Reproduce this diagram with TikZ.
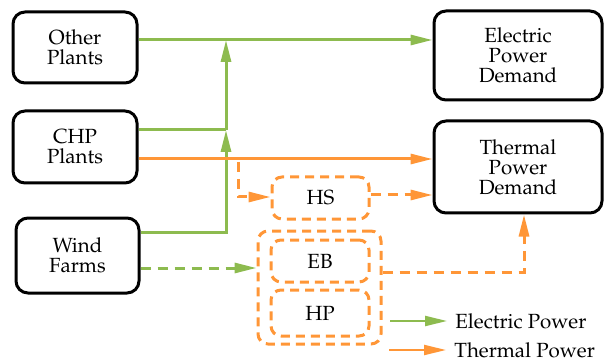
\documentclass[tikz,border=0pt]{standalone}
\usepackage[T1]{fontenc}
\usepackage{mathpazo}
\usetikzlibrary{arrows.meta}
\definecolor{epgreen}{RGB}{141,187,79}
\definecolor{thorange}{RGB}{255,150,55}
\tikzset{
  unit/.style={draw=black,line width=3pt,rounded corners=12pt,align=center,font=\fontsize{20.5}{20}\selectfont},
  store/.style={draw=thorange,line width=3pt,dash pattern=on 9pt off 6pt,rounded corners=10pt,font=\fontsize{20.5}{20}\selectfont},
  tip/.style={-{Triangle[length=22pt,width=10pt]}},
  elpow/.style={tip,draw=epgreen,line width=3pt},
  thpow/.style={tip,draw=thorange,line width=3pt},
  dashline/.style={dash pattern=on 10pt off 7pt}
}
\begin{document}
\begin{tikzpicture}[x=1pt,y=1pt,yscale=-1,xscale=1]
  \useasboundingbox (0,0) rectangle (604,363);
  % sources and demands
  \node[unit,minimum width=124pt,minimum height=71pt] (other) at (75,47.5) {Other\\Plants};
  \node[unit,minimum width=124pt,minimum height=72pt] (chp) at (75,147) {CHP\\Plants};
  \node[unit,minimum width=123pt,minimum height=75pt] (wind) at (77.5,255.5) {Wind\\Farms};
  \node[unit,minimum width=168pt,minimum height=89pt] (elec) at (518,55.5) {Electric\\Power\\Demand};
  \node[unit,minimum width=168pt,minimum height=92pt] (therm) at (518,167) {Thermal\\Power\\Demand};
  % storage and conversion
  \node[store,minimum width=123pt,minimum height=113pt] (grp) at (319.5,287.5) {};
  \node[store,minimum width=97pt,minimum height=42pt] (hs) at (320.5,198) {HS};
  \node[store,minimum width=98pt,minimum height=42pt] (eb) at (320,261) {EB};
  \node[store,minimum width=98pt,minimum height=46pt] (hp) at (320,313) {HP};
  \coordinate (j1) at (226,40);
  \coordinate (j2) at (226,130);
  % electric power
  \draw[elpow] (other.east |- j1) -- (elec.west |- j1);
  \draw[elpow] (j2) -- (j1);
  \draw[elpow] (wind.east |- 0,232) -| (j2);
  \draw[draw=epgreen,line width=3pt] (chp.east |- j2) -- (j2);
  \draw[elpow,dashline] (wind.east |- 0,268) -- (grp.west |- 0,268);
  % thermal power
  \draw[thpow] (chp.east |- 0,159) -- (therm.west |- 0,159);
  \draw[thpow,dashline] (238,162) |- (hs.west |- 0,197);
  \draw[thpow,dashline] (hs.east |- 0,195) -- (therm.west |- 0,195);
  \draw[thpow,dashline] (grp.east |- 0,272) -| ([xshift=6pt]therm.south);
  % legend
  \coordinate (le) at (390,321);
  \coordinate (lt) at (389,350);
  \draw[elpow,line width=2.2pt] (le) -- ++(57,0) node[right=4pt,black,font=\fontsize{20.5}{20}\selectfont] (letext) {Electric Power};
  \draw[thpow,line width=2.2pt] (lt) -- ++(57,0) node[right=4pt,black,font=\fontsize{20.5}{20}\selectfont] (lttext) {Thermal Power};
\end{tikzpicture}
\end{document}
